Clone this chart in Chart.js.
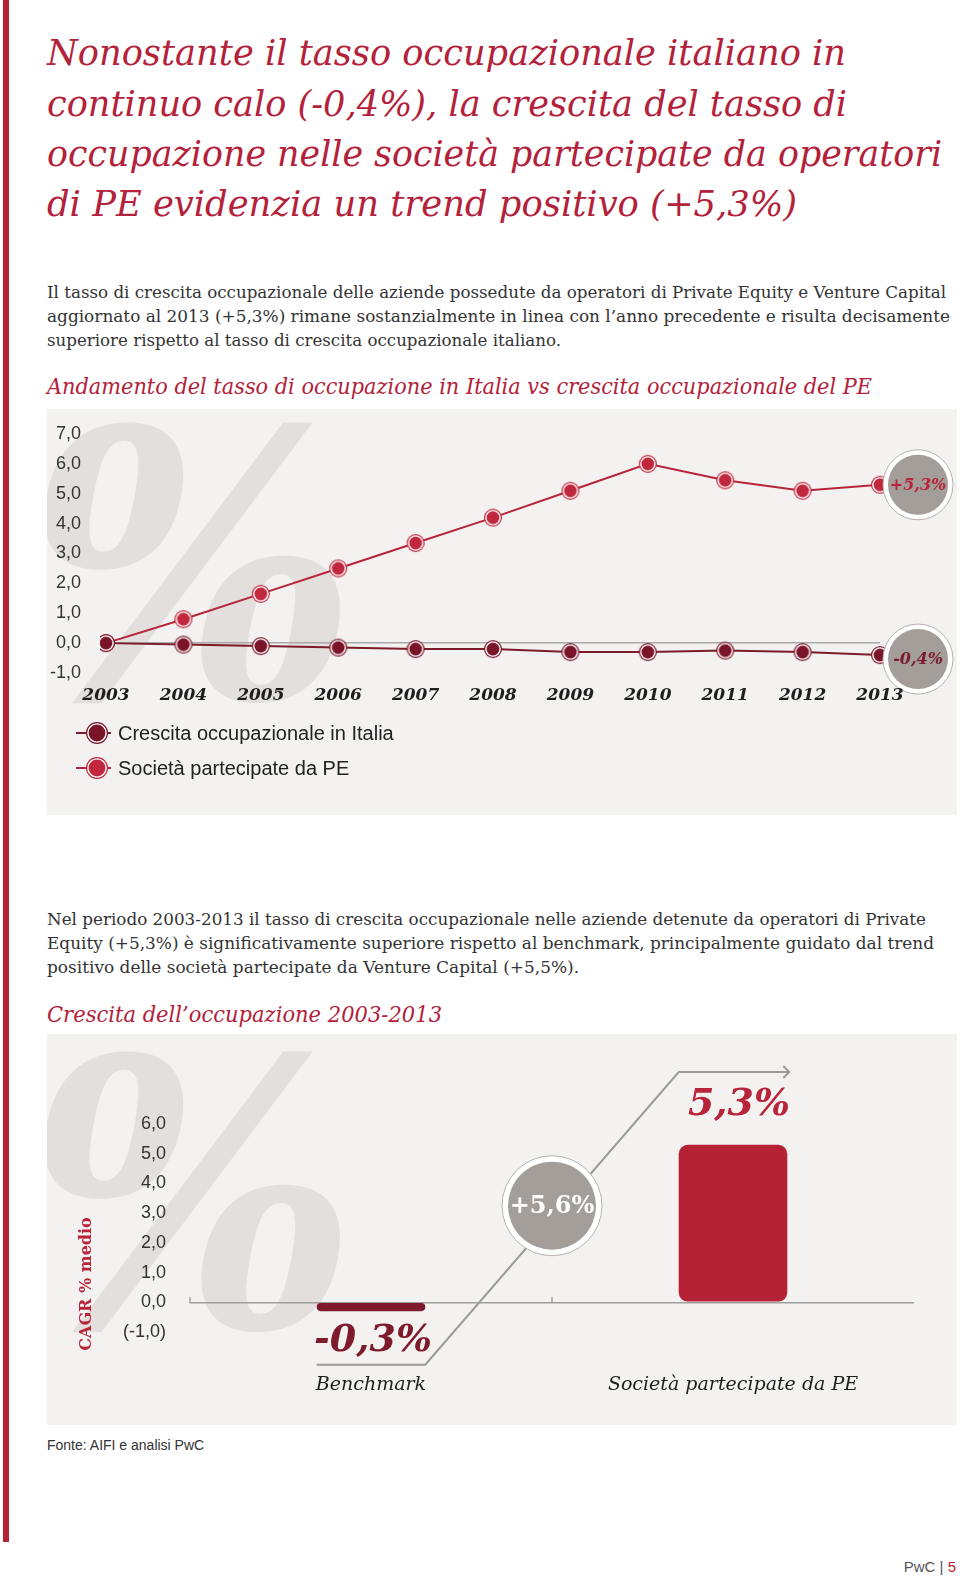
<!DOCTYPE html>
<html lang="it">
<head>
<meta charset="utf-8">
<title>Crescita occupazionale</title>
<script src="https://cdn.jsdelivr.net/npm/chart.js@4.4.1/dist/chart.umd.min.js"></script>
<style>
    html, body { margin: 0; padding: 0; background: #fff; }
    body { position: relative; width: 960px; height: 1577px; overflow: hidden; }
    .redbar { position: absolute; left: 3px; top: 0; width: 6px; height: 1542px; background: #b52236; }
    .line { position: absolute; left: 47px; white-space: nowrap; width: max-content; transform-origin: 0 50%; }
    .title { font: italic 35px "DejaVu Serif"; color: #b3213a; line-height: 50px; }
    .para { font: 17px "DejaVu Serif"; color: #333; line-height: 24px; }
    .sub { font: italic 22px "DejaVu Serif"; color: #b3213a; line-height: 30px; }
    .panel { position: absolute; left: 47px; width: 910px; background: #f3f2f1; overflow: hidden; }
    .panel canvas { position: absolute; left: 0; top: 0; }
    .watermark { position: absolute; font: italic bold 350px "DejaVu Serif"; color: #e2dfdc; line-height: 1;
                 transform: scaleY(1.06); transform-origin: 0 0; }
    .fonte { position: absolute; left: 47px; top: 1437px; font: 14px "Liberation Sans"; color: #333; }
    .page { position: absolute; right: 4px; top: 1558px; font: 15px "Liberation Sans"; color: #555; }
    .page b { color: #b52236; font-weight: normal; }
</style>
</head>
<body>
<div class="redbar"></div>

<div class="line title fit" data-w="799" style="top:28px">Nonostante il tasso occupazionale italiano in</div>
<div class="line title fit" data-w="800" style="top:79px">continuo calo (-0,4%), la crescita del tasso di</div>
<div class="line title fit" data-w="895" style="top:129px">occupazione nelle società partecipate da operatori</div>
<div class="line title fit" data-w="750" style="top:179px">di PE evidenzia un trend positivo (+5,3%)</div>

<div class="line para fit" data-w="899" style="top:280px">Il tasso di crescita occupazionale delle aziende possedute da operatori di Private Equity e Venture Capital</div>
<div class="line para fit" data-w="903" style="top:304px">aggiornato al 2013 (+5,3%) rimane sostanzialmente in linea con l’anno precedente e risulta decisamente</div>
<div class="line para fit" data-w="514" style="top:328px">superiore rispetto al tasso di crescita occupazionale italiano.</div>

<div class="line sub fit" data-w="825" style="top:372px">Andamento del tasso di occupazione in Italia vs crescita occupazionale del PE</div>

<div class="panel" style="top:409px;height:406px">
    <div class="watermark" style="left:-21px;top:-27px">%</div>
    <canvas id="lineChart" width="910" height="406"></canvas>
</div>

<div class="line para fit" data-w="879" style="top:907px">Nel periodo 2003-2013 il tasso di crescita occupazionale nelle aziende detenute da operatori di Private</div>
<div class="line para fit" data-w="887" style="top:931px">Equity (+5,3%) è significativamente superiore rispetto al benchmark, principalmente guidato dal trend</div>
<div class="line para fit" data-w="532" style="top:955px">positivo delle società partecipate da Venture Capital (+5,5%).</div>

<div class="line sub fit" data-w="395" style="top:1000px">Crescita dell’occupazione 2003-2013</div>

<div class="panel" style="top:1034px;height:391px">
    <div class="watermark" style="left:-21px;top:-23px">%</div>
    <canvas id="barChart" width="910" height="391"></canvas>
</div>

<div class="fonte">Fonte: AIFI e analisi PwC</div>
<div class="page">PwC | <b>5</b></div>

<script>
// ---------- data ----------
const years = ['2003', '2004', '2005', '2006', '2007', '2008', '2009', '2010', '2011', '2012', '2013'];
const crescitaItalia = [0.0, -0.05, -0.1, -0.15, -0.2, -0.2, -0.3, -0.3, -0.25, -0.3, -0.4];
const societaPE = [0.0, 0.8, 1.65, 2.5, 3.35, 4.2, 5.1, 6.0, 5.45, 5.1, 5.3];
const lineTicks = { min: -1, max: 7, step: 1 };

const cagrLabels = ['Benchmark', 'Società partecipate da PE'];
const cagrValues = [-0.3, 5.3];
const barTicks = { min: -1, max: 6, step: 1 };

// ---------- helpers ----------
const RED = '#b8243a';
const DARK_RED = '#7d1a2b';
const fmt = v => v.toFixed(1).replace('.', ',');

// squeeze / stretch each text line to the width it has in the layout
const measureCtx = document.createElement('canvas').getContext('2d');
document.querySelectorAll('.fit').forEach(el => {
    const cs = getComputedStyle(el);
    measureCtx.font = cs.fontStyle + ' ' + cs.fontWeight + ' ' + cs.fontSize + ' ' + cs.fontFamily;
    const natural = measureCtx.measureText(el.textContent).width;
    el.style.transform = 'scaleX(' + (+el.dataset.w / natural).toFixed(4) + ')';
});

function makeDot(fill, r) {
    const c = document.createElement('canvas');
    c.width = c.height = r * 2 + 2;
    const g = c.getContext('2d');
    const m = r + 1;
    g.beginPath(); g.arc(m, m, r, 0, Math.PI * 2);
    g.fillStyle = fill; g.fill();
    g.beginPath(); g.arc(m, m, r - 1.2, 0, Math.PI * 2);
    g.fillStyle = '#fff'; g.fill();
    g.beginPath(); g.arc(m, m, r - 2.6, 0, Math.PI * 2);
    g.fillStyle = fill; g.fill();
    return c;
}

function drawBubble(ctx, x, y, r, ring, text, color, font) {
    ctx.save();
    ctx.beginPath(); ctx.arc(x, y, r, 0, Math.PI * 2);
    ctx.fillStyle = '#fff'; ctx.fill();
    ctx.lineWidth = 1; ctx.strokeStyle = '#b5b1ad'; ctx.stroke();
    ctx.beginPath(); ctx.arc(x, y, r - ring, 0, Math.PI * 2);
    ctx.fillStyle = '#a39e9a'; ctx.fill();
    ctx.font = font; ctx.fillStyle = color;
    ctx.textAlign = 'center'; ctx.textBaseline = 'middle';
    ctx.fillText(text, x, y + 1);
    ctx.restore();
}

// ---------- line chart ----------
const dotItalia = makeDot('#7a1428', 9);
const dotPE = makeDot('#c1283e', 9);

const lineDecor = {
    id: 'lineDecor',
    afterDatasetsDraw(chart) {
        const ctx = chart.ctx;
        const x = chart.scales.x, y = chart.scales.y;
        const last = years.length - 1;
        const bx = x.getPixelForValue(last) + 38;
        drawBubble(ctx, bx, y.getPixelForValue(societaPE[last]), 35, 5,
            '+' + fmt(societaPE[last]) + '%', RED, 'bold italic 16px "DejaVu Serif"');
        drawBubble(ctx, bx, y.getPixelForValue(crescitaItalia[last]) + 4, 35, 5,
            fmt(crescitaItalia[last]) + '%', DARK_RED, 'bold italic 16px "DejaVu Serif"');
    },
    afterDraw(chart) {
        // legend, one item per row
        const ctx = chart.ctx;
        const dots = [makeDot('#7a1428', 11), makeDot('#c1283e', 11)];
        ctx.save();
        chart.data.datasets.forEach((ds, i) => {
            const cy = 324 + i * 35;
            ctx.strokeStyle = ds.borderColor; ctx.lineWidth = 2;
            ctx.beginPath(); ctx.moveTo(29, cy); ctx.lineTo(64, cy); ctx.stroke();
            ctx.drawImage(dots[i], 50 - dots[i].width / 2, cy - dots[i].height / 2);
            ctx.font = '20px "Liberation Sans"'; ctx.fillStyle = '#222';
            ctx.textAlign = 'left'; ctx.textBaseline = 'middle';
            ctx.fillText(ds.label, 71, cy + 1);
        });
        ctx.restore();
    }
};

new Chart(document.getElementById('lineChart'), {
    type: 'line',
    data: {
        labels: years,
        datasets: [
            {
                label: 'Crescita occupazionale in Italia',
                data: crescitaItalia,
                borderColor: DARK_RED,
                borderWidth: 2,
                pointStyle: dotItalia,
                tension: 0
            },
            {
                label: 'Società partecipate da PE',
                data: societaPE,
                borderColor: RED,
                borderWidth: 2,
                pointStyle: dotPE,
                tension: 0
            }
        ]
    },
    options: {
        responsive: false,
        animation: false,
        layout: { padding: { top: 25, right: 77, left: 0, bottom: 0 } },
        plugins: { legend: { display: false }, tooltip: { enabled: false } },
        scales: {
            x: {
                offset: false,
                grid: { display: false },
                border: { display: false },
                ticks: {
                    z: 1,
                    padding: 4,
                    color: '#1e1e1e',
                    font: { family: 'DejaVu Serif', size: 17, style: 'italic', weight: 'bold' },
                    maxRotation: 0,
                    autoSkip: false
                },
                afterFit(s) { s.height = 142; }
            },
            y: {
                min: lineTicks.min,
                max: lineTicks.max,
                grid: {
                    drawTicks: true,
                    tickLength: 25,
                    tickColor: 'transparent',
                    color: c => c.tick.value === 0 ? '#aaa9a8' : 'transparent',
                    lineWidth: 1.5
                },
                border: { display: false },
                ticks: {
                    stepSize: lineTicks.step,
                    padding: 0,
                    color: '#333',
                    font: { family: 'Liberation Sans', size: 18 },
                    callback: v => fmt(v)
                },
                afterFit(s) { s.width = 59; }
            }
        }
    },
    plugins: [lineDecor]
});

// ---------- bar chart ----------
const barDecor = {
    id: 'barDecor',
    afterDatasetsDraw(chart) {
        const ctx = chart.ctx;
        const x = chart.scales.x, y = chart.scales.y;
        const bars = chart.getDatasetMeta(0).data;
        const b1 = bars[0], b2 = bars[1];
        const y0 = y.getPixelForValue(0);
        const mid = (x.getPixelForValue(0) + x.getPixelForValue(1)) / 2;

        // small ticks on the zero line at category edges
        ctx.save();
        ctx.strokeStyle = '#9e9e9e'; ctx.lineWidth = 1.5;
        [x.left, mid].forEach(px => {
            ctx.beginPath(); ctx.moveTo(px, y0 - 5); ctx.lineTo(px, y0 + 1); ctx.stroke();
        });

        // growth arrow from benchmark to PE
        const yLow = y.getPixelForValue(-2.1);
        const yHigh = y.getPixelForValue(7.75);
        const xEnd = b2.x + b2.width / 2 + 2;
        ctx.strokeStyle = '#9c9a98'; ctx.lineWidth = 2;
        ctx.beginPath();
        ctx.moveTo(b1.x - b1.width / 2, yLow);
        ctx.lineTo(b1.x + b1.width / 2, yLow);
        ctx.lineTo(b2.x - b2.width / 2, yHigh);
        ctx.lineTo(xEnd, yHigh);
        ctx.stroke();
        ctx.beginPath();
        ctx.moveTo(xEnd - 6, yHigh - 6); ctx.lineTo(xEnd, yHigh); ctx.lineTo(xEnd - 6, yHigh + 6);
        ctx.stroke();

        // value labels
        ctx.font = 'bold italic 38px "DejaVu Serif"';
        ctx.textAlign = 'center'; ctx.textBaseline = 'middle';
        ctx.fillStyle = DARK_RED;
        ctx.fillText(fmt(cagrValues[0]) + '%', b1.x + 2, y.getPixelForValue(cagrValues[0]) + 30);
        ctx.fillStyle = RED;
        ctx.fillText(fmt(cagrValues[1]) + '%', b2.x + 6, y.getPixelForValue(cagrValues[1]) - 40);

        // axis title
        ctx.save();
        ctx.translate(40, 250);
        ctx.rotate(-Math.PI / 2);
        ctx.font = 'bold 16px "DejaVu Serif"'; ctx.fillStyle = RED;
        ctx.fillText('CAGR % medio', 0, 0);
        ctx.restore();
        ctx.restore();

        // difference bubble
        const diff = cagrValues[1] - cagrValues[0];
        drawBubble(ctx, mid, y.getPixelForValue(3.25), 50, 6,
            '+' + fmt(diff) + '%', '#fff', 'bold 24px "DejaVu Serif"');
    }
};

new Chart(document.getElementById('barChart'), {
    type: 'bar',
    data: {
        labels: cagrLabels,
        datasets: [{
            data: cagrValues,
            backgroundColor: [DARK_RED, '#b52236'],
            borderRadius: [5, 9],
            borderSkipped: false,
            barPercentage: 0.6,
            categoryPercentage: 0.5
        }]
    },
    options: {
        responsive: false,
        animation: false,
        layout: { padding: { top: 90, right: 43, left: 0, bottom: 0 } },
        plugins: { legend: { display: false }, tooltip: { enabled: false } },
        scales: {
            x: {
                grid: { display: false },
                border: { display: false },
                ticks: {
                    padding: 34,
                    color: '#1e1e1e',
                    font: { family: 'DejaVu Serif', size: 19, style: 'italic' }
                },
                afterFit(s) { s.height = 93; }
            },
            y: {
                min: barTicks.min,
                max: barTicks.max,
                grid: {
                    drawTicks: true,
                    tickLength: 24,
                    tickColor: 'transparent',
                    color: c => c.tick.value === 0 ? '#9e9e9e' : 'transparent',
                    lineWidth: 1.5
                },
                border: { display: false },
                ticks: {
                    stepSize: barTicks.step,
                    padding: 0,
                    color: '#333',
                    font: { family: 'Liberation Sans', size: 18 },
                    callback: v => v < 0 ? '(' + fmt(v) + ')' : fmt(v)
                },
                afterFit(s) { s.width = 143; }
            }
        }
    },
    plugins: [barDecor]
});
</script>
</body>
</html>
